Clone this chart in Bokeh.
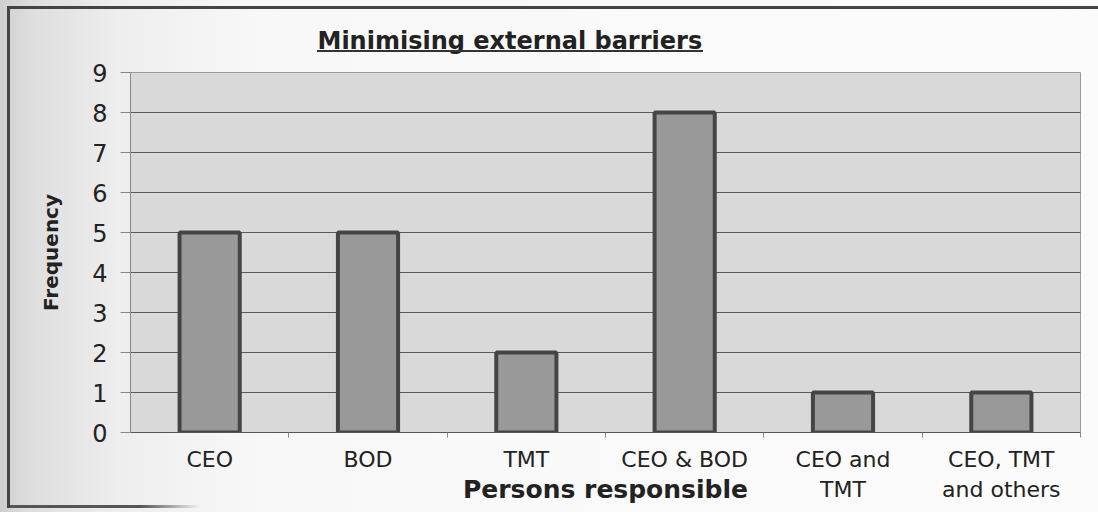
from bokeh.plotting import figure
from bokeh.models import Range1d, FixedTicker, InlineStyleSheet
from bokeh.embed import file_html
from bokeh.resources import INLINE

# Chart data
categories = ["CEO", "BOD", "TMT", "CEO & BOD", "CEO and\nTMT", "CEO, TMT\nand others"]
frequency = [5, 5, 2, 8, 1, 1]
y_ticks = [0, 1, 2, 3, 4, 5, 6, 7, 8, 9]

title_text = "Minimising external barriers"
x_title = "Persons responsible"
y_title = "Frequency"

centers = [i + 0.5 for i in range(len(categories))]

p = figure(width=1098, height=512, output_backend="svg", toolbar_location=None,
           x_range=Range1d(0, len(categories)), y_range=Range1d(0, 9),
           min_border_left=130, min_border_right=18, min_border_top=72,
           min_border_bottom=80)

p.background_fill_color = "#d9d9d9"
p.border_fill_color = None
p.outline_line_color = "#9a9a9a"

# Title, underlined by the stylesheet below
p.title.text = title_text
p.title.align = "left"
p.title.offset = 187
p.title.standoff = 35
p.title.text_font = "DejaVu Sans"
p.title.text_font_style = "bold"
p.title.text_font_size = "24px"
p.title.text_color = "#222222"

# Bars
p.vbar(x=centers, top=frequency, width=0.38, fill_color="#999999",
       line_color="#454545", line_width=4)

# Grid
p.xgrid.grid_line_color = None
p.ygrid.ticker = FixedTicker(ticks=y_ticks)
p.ygrid.grid_line_color = "#5a5a5a"
p.ygrid.grid_line_width = 1

# Y axis
p.yaxis.ticker = FixedTicker(ticks=y_ticks)
p.yaxis.axis_line_color = "#888888"
p.yaxis.major_tick_line_color = "#888888"
p.yaxis.major_tick_out = 10
p.yaxis.major_tick_in = 0
p.yaxis.minor_tick_line_color = None
p.yaxis.major_label_standoff = 13
p.yaxis.major_label_text_font = "DejaVu Sans"
p.yaxis.major_label_text_font_size = "24px"
p.yaxis.major_label_text_color = "#222222"
p.yaxis.axis_label = y_title
p.yaxis.axis_label_text_font = "DejaVu Sans"
p.yaxis.axis_label_text_font_style = "bold"
p.yaxis.axis_label_text_font_size = "20px"
p.yaxis.axis_label_text_color = "#222222"
p.yaxis.axis_label_standoff = 26

# X axis: labels under each bar, tick marks between categories
p.xaxis.ticker = FixedTicker(ticks=centers, minor_ticks=list(range(1, len(categories) + 1)))
p.xaxis.major_label_overrides = {c: lab for c, lab in zip(centers, categories)}
p.xaxis.axis_line_color = "#555555"
p.xaxis.major_tick_line_color = None
p.xaxis.minor_tick_line_color = "#888888"
p.xaxis.minor_tick_out = 5
p.xaxis.minor_tick_in = 0
p.xaxis.major_label_standoff = 8
p.xaxis.major_label_text_font = "DejaVu Sans"
p.xaxis.major_label_text_font_size = "22px"
p.xaxis.major_label_text_color = "#222222"
p.xaxis.axis_label = x_title
p.xaxis.axis_label_text_font = "DejaVu Sans"
p.xaxis.axis_label_text_font_style = "bold"
p.xaxis.axis_label_text_font_size = "25px"
p.xaxis.axis_label_text_color = "#222222"
p.xaxis.axis_label_standoff = -30

# Page background, outer chart frame and the title's underline
p.stylesheets = [InlineStyleSheet(css="""
:host {
  position: relative;
  background: linear-gradient(to right, #cfcfcf 0, #dedede 30px, #eeeeee 120px,
                              #f8f8f8 260px, #fbfbfb 100%);
}
:host::after {
  content: ""; position: absolute; left: 7px; top: 6px; right: 0; bottom: 4px;
  border-top: 3px solid #444; border-left: 3px solid #444;
  background: linear-gradient(to right, #555 0, #555 130px, rgba(85,85,85,0) 190px)
              left bottom / 100% 3px no-repeat;
  pointer-events: none;
}
:host::before {
  content: ""; position: absolute; left: 317px; top: 50px; width: 386px; height: 2px;
  background: #333; pointer-events: none; z-index: 5;
}
""")]

open("out.html", "w").write(file_html(p, INLINE))
